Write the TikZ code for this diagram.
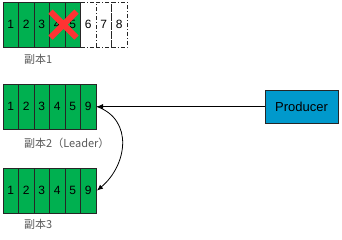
\documentclass[tikz,border=0pt]{standalone}
\usepackage{fontspec}
\setmainfont{Liberation Sans}
\newfontfamily\cjk{Noto Sans CJK SC}
\usetikzlibrary{matrix,positioning,arrows.meta,shapes.misc}
\definecolor{cellgreen}{RGB}{0,176,80}
\definecolor{prodblue}{RGB}{0,153,204}
\definecolor{crossred}{RGB}{255,51,51}
\tikzset{
repmat/.style={
  matrix of nodes,
  line width=1pt,
  inner sep=0pt,
  column sep=-1pt,
  nodes={draw=black!85,fill=cellgreen,
    minimum width=15.5pt,minimum height=45pt,inner sep=0pt,
    font=\fontsize{12}{14}\selectfont}
  },
lostcell/.style={
  nodes={fill=white,dash pattern=on 4pt off 2pt on 1pt off 2pt}
  },
replabel/.style={
  font=\cjk\fontsize{11}{13}\selectfont,
  text=black!65,
  inner sep=0pt
  },
prodbox/.style={
  draw=black!85,line width=1pt,fill=prodblue,
  minimum width=73pt,minimum height=33pt,
  font=\fontsize{13}{15}\selectfont
  }
}

\begin{document}
\begin{tikzpicture}[x=1pt,y=-1pt,>={Latex[length=6pt,width=5pt]}]
\useasboundingbox (0,0) rectangle (342,239);

\matrix[repmat,anchor=north west,
  column 6/.style={lostcell},column 7/.style={lostcell},column 8/.style={lostcell}]
at (2,1)
(rep1)
{
1 & 2 & 3 & 4 & 5 & 6 & 7 & 8 \\
};

\matrix[repmat,anchor=north west]
at (2,83)
(rep2)
{
1 & 2 & 3 & 4 & 5 & 9 \\
};

\matrix[repmat,anchor=north west]
at (2,167)
(rep3)
{
1 & 2 & 3 & 4 & 5 & 9 \\
};

\node[cross out,draw=crossred,line width=6pt,minimum size=20pt,xshift=-2pt]
  (lost) at (rep1-1-4.east) {};

\node[replabel,below right=6pt and 22pt of rep1.south west] (lab1) {副本1};
\node[replabel,below right=8pt and 22pt of rep2.south west] (lab2) {副本2（Leader）};
\node[replabel,below right=5pt and 22pt of rep3.south west] (lab3) {副本3};

\node[prodbox] (prod) at (301.5,106.5) {Producer};

\draw[->,line width=0.8pt] (prod.west) -- (prod.west -| rep2.east);
\draw[->,line width=0.8pt] (rep2.east) to[out=-20,in=40,looseness=1.2] (rep3.east);
\end{tikzpicture}
\end{document}
